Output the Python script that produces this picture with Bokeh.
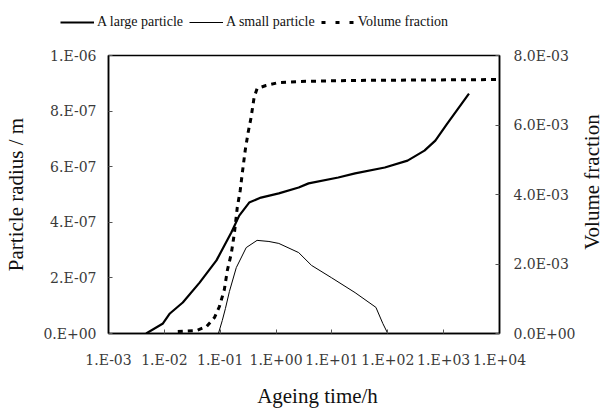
import math
from bokeh.plotting import figure
from bokeh.layouts import column, row
from bokeh.models import Range1d, LinearAxis, FixedTicker, Legend, LegendItem, Label
from bokeh.embed import file_html
from bokeh.resources import INLINE

# ---- data ----
large_t = [0.00472, 0.00944, 0.01256, 0.02138, 0.04276, 0.0857, 0.158, 0.219, 0.330, 0.537,
           1.12, 2.54, 3.82, 13.0, 26.0, 88.5, 226, 453, 710, 1160, 2840]
large_r = [0.0, 0.036e-6, 0.072e-6, 0.1115e-6, 0.183e-6, 0.263e-6, 0.363e-6, 0.424e-6, 0.471e-6, 0.489e-6,
           0.504e-6, 0.525e-6, 0.540e-6, 0.561e-6, 0.576e-6, 0.597e-6, 0.622e-6, 0.658e-6, 0.694e-6, 0.755e-6, 0.863e-6]

small_t = [0.0929, 0.109, 0.124, 0.146, 0.194, 0.292, 0.457, 0.745, 1.12, 2.54, 4.31, 9.76, 26.0, 61.3, 81.5, 100]
small_r = [0.0, 0.047e-6, 0.090e-6, 0.151e-6, 0.237e-6, 0.309e-6, 0.335e-6, 0.331e-6, 0.324e-6, 0.291e-6,
           0.245e-6, 0.201e-6, 0.147e-6, 0.094e-6, 0.036e-6, 0.0]

vf_t = [0.0174, 0.0379, 0.0569, 0.0789, 0.0968, 0.1186, 0.134, 0.158, 0.179, 0.202, 0.228, 0.248,
        0.280, 0.316, 0.357, 0.404, 0.457, 0.659, 1.12, 2.54, 19.5, 10000]
vf_v = [0.058e-3, 0.086e-3, 0.201e-3, 0.460e-3, 0.777e-3, 1.266e-3, 1.813e-3, 2.302e-3, 2.878e-3, 3.626e-3,
        4.115e-3, 4.604e-3, 5.266e-3, 5.784e-3, 6.216e-3, 6.791e-3, 7.050e-3, 7.137e-3, 7.223e-3, 7.252e-3,
        7.281e-3, 7.309e-3]

x_ticks = [1e-3, 1e-2, 1e-1, 1e0, 1e1, 1e2, 1e3, 1e4]
x_labels = ["1.E-03", "1.E-02", "1.E-01", "1.E+00", "1.E+01", "1.E+02", "1.E+03", "1.E+04"]
r_ticks = [0.0, 2e-7, 4e-7, 6e-7, 8e-7, 1e-6]
r_labels = ["0.E+00", "2.E-07", "4.E-07", "6.E-07", "8.E-07", "1.E-06"]
vf_ticks = [0.0, 2e-3, 4e-3, 6e-3, 8e-3]
vf_labels = ["0.0E+00", "2.0E-03", "4.0E-03", "6.0E-03", "8.0E-03"]
series_names = ["A large particle", "A small particle", "Volume fraction"]
x_title = "Ageing time/h"
y_title = "Particle radius / m"
y2_title = "Volume fraction"

FONT = "Liberation Serif"
TICKFONT = "DejaVu Serif"


def strip(w, h):
    f = figure(width=w, height=h, x_range=Range1d(0, w), y_range=Range1d(0, h),
               output_backend="svg", toolbar_location=None,
               x_axis_location=None, y_axis_location=None, min_border=0)
    f.grid.visible = False
    f.outline_line_color = None
    f.background_fill_color = "white"
    f.border_fill_color = "white"
    return f


# ---------------- main chart ----------------
p = figure(width=578, height=336, x_axis_type="log",
           x_range=Range1d(1e-3, 1e4), y_range=Range1d(0, 1e-6),
           output_backend="svg", toolbar_location=None,
           min_border_left=108, min_border_right=76, min_border_top=15, min_border_bottom=43)
p.extra_y_ranges = {"vf": Range1d(0, 8e-3)}
p.grid.visible = False
p.background_fill_color = "white"
p.border_fill_color = "white"
p.outline_line_color = "black"
p.outline_line_width = 1.5

xa = p.xaxis[0]
xa.ticker = FixedTicker(ticks=x_ticks, minor_ticks=[])
xa.major_label_overrides = {t: l for t, l in zip(x_ticks, x_labels)}

ya = p.yaxis[0]
ya.ticker = FixedTicker(ticks=r_ticks, minor_ticks=[])
ya.major_label_overrides = {t: l for t, l in zip(r_ticks, r_labels)}
ya.axis_label = y_title

ra = LinearAxis(y_range_name="vf", ticker=FixedTicker(ticks=vf_ticks, minor_ticks=[]))
ra.major_label_overrides = {t: l for t, l in zip(vf_ticks, vf_labels)}
p.add_layout(ra, "right")

for ax in (xa, ya, ra):
    ax.axis_line_color = "black"
    ax.axis_line_width = 1.5
    ax.major_tick_line_color = "#555555"
    ax.major_tick_in = 4
    ax.major_tick_out = 0
    ax.minor_tick_line_color = None
    ax.major_label_text_font = TICKFONT
    ax.major_label_text_font_size = "14px"
    ax.major_label_text_color = "#3a3a3a"
    ax.axis_label_text_font = FONT
    ax.axis_label_text_font_size = "21px"
    ax.axis_label_text_font_style = "normal"
    ax.axis_label_text_color = "#111111"

xa.major_label_standoff = 18
ya.major_label_standoff = 12
ya.axis_label_standoff = 12
ra.major_label_standoff = 14

r1 = p.line(large_t, large_r, line_color="black", line_width=2.2)
r2 = p.line(small_t, small_r, line_color="black", line_width=1)
r3 = p.line(vf_t, vf_v, y_range_name="vf", line_color="black", line_width=3, line_dash="5 5")

# ---------------- legend strip on top ----------------
lg = strip(606, 40)
d1 = lg.line([-10, -5], [-10, -5], line_color="black", line_width=2.2)
d2 = lg.line([-10, -5], [-10, -5], line_color="black", line_width=1)
d3 = lg.line([-10, -5], [-10, -5], line_color="black", line_width=3, line_dash="4 10")
legend = Legend(items=[LegendItem(label=series_names[0], renderers=[d1]),
                       LegendItem(label=series_names[1], renderers=[d2]),
                       LegendItem(label=series_names[2], renderers=[d3])],
                orientation="horizontal", location=(60, 10),
                glyph_width=34, glyph_height=14, label_standoff=3, spacing=6,
                padding=0, margin=0, border_line_color=None, background_fill_alpha=0,
                label_text_font=FONT, label_text_font_size="14px", label_text_color="#111111",
                label_height=14)
lg.add_layout(legend, "center")

# ---------------- right-hand title strip ----------------
rt = strip(28, 336)
rt.add_layout(Label(x=13, y=183, text=y2_title, angle=math.pi / 2,
                    text_align="center", text_baseline="middle",
                    text_font=FONT, text_font_size="21px", text_color="#111111"))

# ---------------- bottom title strip ----------------
bt = strip(606, 35)
bt.add_layout(Label(x=317, y=16, text=x_title,
                    text_align="center", text_baseline="middle",
                    text_font=FONT, text_font_size="21px", text_color="#111111"))

layout = column(lg, row(p, rt, spacing=0), bt, spacing=0)
open("out.html", "w").write(file_html(layout, INLINE))
